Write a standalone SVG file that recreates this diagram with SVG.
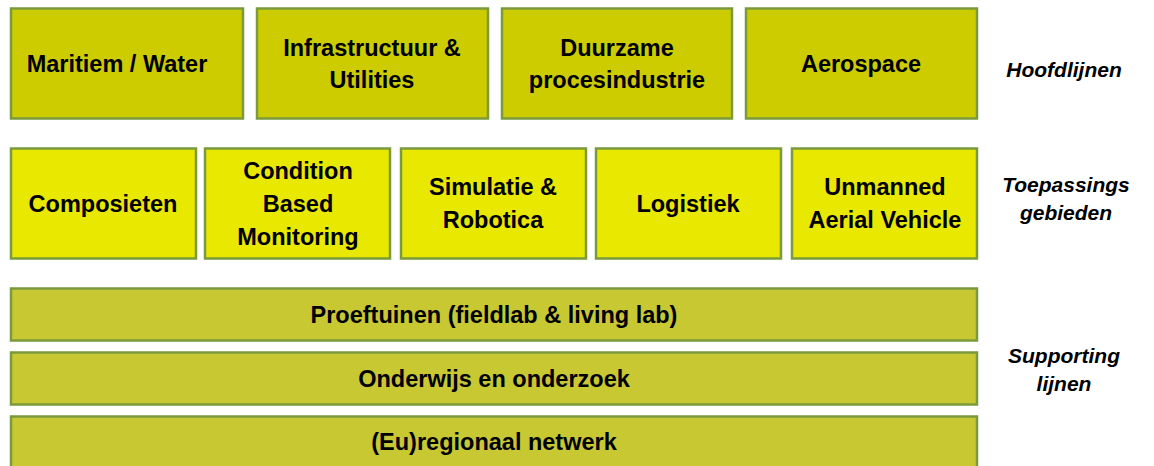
<svg xmlns="http://www.w3.org/2000/svg" width="1154" height="466" viewBox="0 0 1154 466">
<style>
.b{stroke:#7a9a3c;stroke-width:2.5}
.h{fill:#cccc00}
.t{fill:#e8e800}
.s{fill:#c8c832}
.l{font-family:"Liberation Sans",Arial,sans-serif;font-weight:bold;font-size:23.5px;fill:#000;text-anchor:middle}
.i{font-family:"Liberation Sans",Arial,sans-serif;font-style:italic;font-weight:bold;font-size:21px;fill:#000;text-anchor:middle}
</style>
<rect width="1154" height="466" fill="#fff"/>
<g id="maritiem"><rect class="b h" x="11" y="8.5" width="232" height="110"/><text class="l" x="117" y="72">Maritiem / Water</text></g>
<g id="infra"><rect class="b h" x="257" y="8.5" width="231" height="110"/><text class="l" x="372" y="56">Infrastructuur &amp;</text><text class="l" x="372" y="88">Utilities</text></g>
<g id="duurzame"><rect class="b h" x="502" y="8.5" width="230" height="110"/><text class="l" x="617" y="56">Duurzame</text><text class="l" x="617" y="88">procesindustrie</text></g>
<g id="aerospace"><rect class="b h" x="746" y="8.5" width="231" height="110"/><text class="l" x="861" y="72">Aerospace</text></g>
<g id="composieten"><rect class="b t" x="11" y="148.5" width="185" height="110"/><text class="l" x="103" y="212">Composieten</text></g>
<g id="cbm"><rect class="b t" x="205" y="148.5" width="185" height="110"/><text class="l" x="298" y="179">Condition</text><text class="l" x="298" y="212">Based</text><text class="l" x="298" y="245">Monitoring</text></g>
<g id="simulatie"><rect class="b t" x="401" y="148.5" width="185" height="110"/><text class="l" x="493" y="195">Simulatie &amp;</text><text class="l" x="493" y="228">Robotica</text></g>
<g id="logistiek"><rect class="b t" x="596" y="148.5" width="185" height="110"/><text class="l" x="688" y="212">Logistiek</text></g>
<g id="uav"><rect class="b t" x="792" y="148.5" width="185" height="110"/><text class="l" x="885" y="195">Unmanned</text><text class="l" x="885" y="228">Aerial Vehicle</text></g>
<g id="proeftuinen"><rect class="b s" x="11" y="288.5" width="966" height="52"/><text class="l" x="494" y="323">Proeftuinen (fieldlab &amp; living lab)</text></g>
<g id="onderwijs"><rect class="b s" x="11" y="352.5" width="966" height="52"/><text class="l" x="494" y="387">Onderwijs en onderzoek</text></g>
<g id="netwerk"><rect class="b s" x="11" y="416.5" width="966" height="60"/><text class="l" x="494" y="450">(Eu)regionaal netwerk</text></g>
<g id="labels">
<text class="i" x="1064" y="77">Hoofdlijnen</text>
<text class="i" x="1066" y="192">Toepassings</text>
<text class="i" x="1066" y="220">gebieden</text>
<text class="i" x="1064" y="363">Supporting</text>
<text class="i" x="1064" y="391">lijnen</text>
</g>
<g id="connectors"></g>
</svg>
